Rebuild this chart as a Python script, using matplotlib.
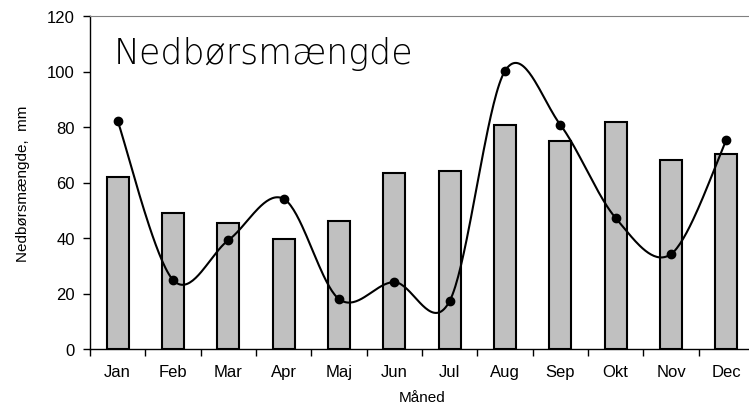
import numpy as np
import matplotlib.pyplot as plt

months = ['Jan', 'Feb', 'Mar', 'Apr', 'Maj', 'Jun', 'Jul', 'Aug', 'Sep', 'Okt', 'Nov', 'Dec']
bar_values = [62, 49, 45.4, 39.6, 46.1, 63.4, 64.2, 80.8, 75, 81.7, 68.2, 70.3]
line_values = [82.2, 24.9, 39.2, 54.1, 18, 24.1, 17.3, 100.2, 80.8, 47.2, 34.2, 75.3]


def smooth_curve(xs, ys, n=40):
    # Excel style smoothing: Catmull-Rom through the points as cubic Bezier pieces
    pts = np.column_stack([xs, ys]).astype(float)
    padded = np.vstack([pts[0], pts, pts[-1]])
    t = np.linspace(0, 1, n)[:, None]
    out = []
    for i in range(len(pts) - 1):
        p0, p1, p2, p3 = padded[i], padded[i + 1], padded[i + 2], padded[i + 3]
        c1 = p1 + (p2 - p0) / 6
        c2 = p2 - (p3 - p1) / 6
        seg = ((1 - t) ** 3) * p1 + 3 * ((1 - t) ** 2) * t * c1 + 3 * (1 - t) * t ** 2 * c2 + t ** 3 * p2
        out.append(seg if i == 0 else seg[1:])
    out = np.vstack(out)
    return out[:, 0], out[:, 1]


plt.rcParams['font.family'] = ['Liberation Sans', 'DejaVu Sans']

fig = plt.figure(figsize=(7.49, 4.10), dpi=100)
ax = fig.add_axes([90 / 749, 60 / 410, 664 / 749, 333 / 410])

x = np.arange(len(months))
ax.bar(x, bar_values, width=0.4, color='#c0c0c0', edgecolor='black', linewidth=1.5, zorder=2)

sx, sy = smooth_curve(x, line_values)
ax.plot(sx, sy, color='black', linewidth=1.5, zorder=3)
ax.plot(x, line_values, 'o', color='black', markersize=6, zorder=4)

ax.set_xlim(-0.5, 11.5)
ax.set_ylim(0, 120)
ax.set_yticks(range(0, 121, 20))
ax.set_xticks(x)
ax.set_xticklabels(months)
ax.set_xticks(np.arange(-0.5, 12, 1), minor=True)
ax.tick_params(axis='x', which='major', length=0, pad=11, labelsize=12)
ax.tick_params(axis='x', which='minor', length=5, width=1, direction='out')
ax.tick_params(axis='y', length=5, width=1, direction='out', labelsize=12, pad=6)

ax.spines['right'].set_visible(False)
ax.spines['top'].set_color('#808080')
ax.spines['left'].set_linewidth(1)
ax.spines['bottom'].set_linewidth(1)

ax.set_xlabel('Måned', fontsize=11, labelpad=8)
ax.set_ylabel('Nedbørsmængde,  mm', fontsize=11, labelpad=12)

ax.text(0.036, 0.94, 'Nedbørsmængde', transform=ax.transAxes, fontsize=25,
        family=['DejaVu Sans'], fontweight='light', va='top', ha='left')

fig.savefig('out.png', dpi=100)
